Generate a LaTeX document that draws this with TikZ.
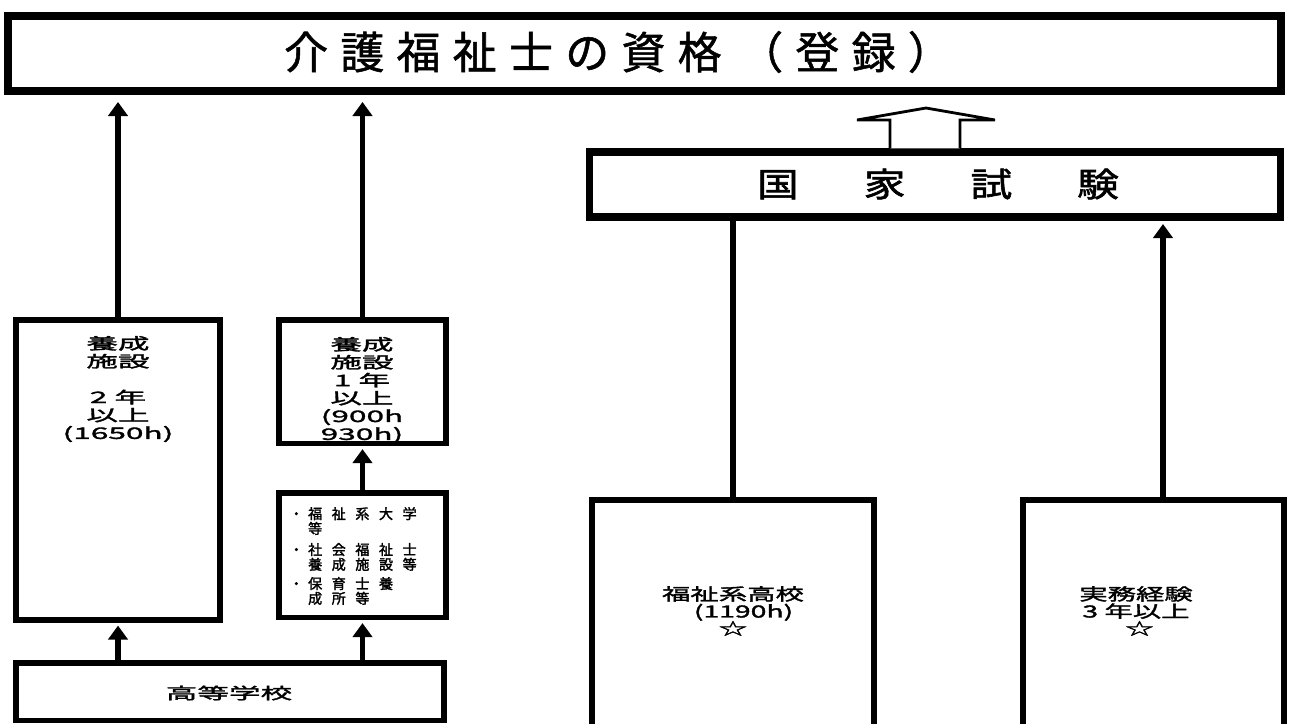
\documentclass[tikz,border=0pt]{standalone}
\usepackage{fontspec}
\usetikzlibrary{arrows.meta}
\newfontfamily\jptitle{Noto Sans CJK JP}[LetterSpace=28,FakeBold=1.2]
\newfontfamily\jpexam{Noto Sans CJK JP}[FakeStretch=1.25,FakeBold=1.8]
\newfontfamily\jpwide{Noto Sans CJK JP}[FakeStretch=2,FakeBold=2]
\newfontfamily\jpmid{Noto Sans CJK JP}[FakeStretch=1.7,FakeBold=2]
\newfontfamily\jpsmall{Noto Sans CJK JP}[FakeBold=2,LetterSpace=68]
\newcommand\bul{\makebox[10.7pt][l]{・}}
\tikzset{ b/.style = { rectangle % frame
, draw
, line width = 3.4pt
, inner sep = 0pt
}
, t/.style = { align = center % text in a frame
, inner sep = 0pt
, font = \jpwide\fontsize{9}{10.2}\selectfont
}
, s/.style = { align = left % small list text
, inner sep = 0pt
, anchor = west
, font = \jpsmall\fontsize{8}{6.8}\selectfont
}
}

\begin{document}
\begin{tikzpicture}[x=0.02cm, y=-0.02cm,
        edge_style/.style={line width=3.4pt, -{Triangle[width=11pt,length=8pt]}},
        line_style/.style={line width=3.4pt},
        hollow_style/.style={line width=1.6pt, line join=miter, fill=white}]
        \clip (0,0) rectangle (1289,724);

            % boxes
            \node [b, line width=4.5pt, minimum width=25.46cm, minimum height=1.5cm] (top) at (644.5,53.5) {};
            \node [b, line width=4pt, minimum width=13.84cm, minimum height=1.3cm] (exam) at (935,184.5) {};
            \node [b, minimum width=4.1cm, minimum height=6cm] (y1) at (118,470) {};
            \node [b, minimum width=3.34cm, minimum height=2.48cm] (y2) at (362.5,381.5) {};
            \node [b, minimum width=3.34cm, minimum height=2.5cm] (dg) at (362.5,555) {};
            \node [b, minimum width=8.58cm, minimum height=1.16cm] (koko) at (230,691.5) {};
            \node [b, minimum width=5.64cm, minimum height=5.2cm] (fk) at (733,630) {};
            \node [b, minimum width=5.22cm, minimum height=5.2cm] (jm) at (1153.5,630) {};

            % texts
            \node [inner sep=0pt, font=\jptitle\fontsize{25}{25}\selectfont] (topt) at (618,52) {介護福祉士の資格\hspace{.4em}（登録）};
            \node [inner sep=0pt, font=\jpexam\fontsize{19}{19}\selectfont] (examt) at (938,184) {国\hspace{37pt}家\hspace{37pt}試\hspace{37pt}験};
            \node [t] (y1t) at (118,389) {養成\\施設\\[10.2pt]2 年\\以上\\(1650h)};
            \node [t] (y2t) at (362,390) {養成\\施設\\1 年\\以上\\(900h\\930h)};
            \node [s] (d1) at (289,521) {\bul 福祉系大学\\\hspace*{10.7pt}等};
            \node [s] (d2) at (289,557) {\bul 社会福祉士\\\hspace*{10.7pt}養成施設等};
            \node [s] (d3) at (289,591) {\bul 保育士養\\\hspace*{10.7pt}成所等};
            \node [t] (kokot) at (229,693) {高等学校};
            \node [t, font=\jpmid\fontsize{9.5}{9.8}\selectfont] (fkt) at (733,611) {福祉系高校\hspace{36pt}\\\hspace{12pt}(1190h)\\☆};
            \node [t, font=\jpmid\fontsize{9.5}{9.8}\selectfont] (jmt) at (1136,611) {実務経験\\3 年以上\\\hspace{4pt}☆};

            % connectors
            \draw [edge_style, shorten >=4pt] (y1.north) -- (y1.north |- top.south);
            \draw [edge_style, shorten >=4pt] (y2.north) -- (y2.north |- top.south);
            \draw [edge_style, shorten >=1.5pt] (dg.north) -- (y2.south);
            \draw [edge_style, shorten >=1.5pt] (koko.north -| y1.south) -- (y1.south);
            \draw [edge_style, shorten >=1.5pt] (koko.north -| dg.south) -- (dg.south);
            \draw [line_style] (fk.north) -- (fk.north |- exam.south);
            \coordinate (jmtop) at ([xshift=0.19cm]jm.north);
            \draw [edge_style, shorten >=2pt] (jmtop) -- (jmtop |- exam.south);
            \draw [hollow_style] (exam.north -| 890,0) -- (890,120) -- (857,120) -- (926,108)
                -- (995,120) -- (960,120) -- (exam.north -| 960,0);

        \end{tikzpicture}
\end{document}
